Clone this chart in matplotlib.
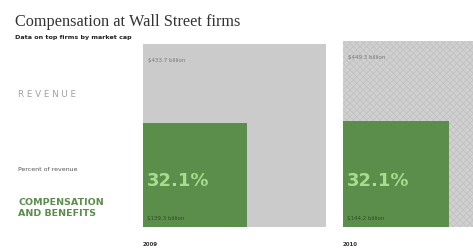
import matplotlib
matplotlib.use('Agg')
from matplotlib import pyplot as plt
from matplotlib.patches import Rectangle

years = ['2009', '2010']
revenue = [433.7, 449.3]
compensation = [139.3, 144.2]
revenue_labels = ['$433.7 billion', '$449.3 billion']
comp_labels = ['$139.3 billion', '$144.2 billion']
pct_labels = ['32.1%', '32.1%']

gray = '#cbcbcb'
green = '#5b8d4b'

fig = plt.figure(figsize=(4.73, 2.51), dpi=100)
ax = fig.add_axes([0, 0, 1, 1])
ax.set_xlim(0, 473)
ax.set_ylim(251, 0)
ax.axis('off')

plt.rcParams['hatch.linewidth'] = 0.6

# side of each square is proportional to sqrt(value) so area matches value
k = 183 / revenue[0] ** 0.5
base = 228
lefts = [143, 343]

for i in range(len(years)):
    x0 = lefts[i]
    s_rev = k * revenue[i] ** 0.5
    s_comp = k * compensation[i] ** 0.5
    if i == 0:
        ax.add_patch(Rectangle((x0, base - s_rev), s_rev, s_rev, facecolor=gray, edgecolor='none'))
    else:
        ax.add_patch(Rectangle((x0, base - s_rev), s_rev, s_rev, facecolor='#d0d0d0', edgecolor='#c2c2c2',
                               hatch='xxxxx', linewidth=0))
    ax.add_patch(Rectangle((x0, base - s_comp), s_comp, s_comp, facecolor=green, edgecolor='none'))
    ax.text(x0 + 5, base - s_rev + 16, revenue_labels[i], fontsize=4, color='#777777', va='center')
    ax.text(x0 + 4, 181, pct_labels[i], fontsize=13, color='#a6dc8e', va='center', fontweight='bold')
    ax.text(x0 + 4, base - 9, comp_labels[i], fontsize=4, color='#2f4d25', va='center')
    ax.text(x0, 245, years[i], fontsize=4, color='#333333', va='center', fontweight='bold')

ax.text(15, 22, 'Compensation at Wall Street firms', fontsize=11.7, family='Liberation Serif',
        color='#333333', va='center')
ax.text(15, 38, 'Data on top firms by market cap', fontsize=4.6, color='#222222', va='center',
        fontweight='bold')
ax.text(18, 95, 'R E V E N U E', fontsize=6.3, color='#a0a0a0', va='center')
ax.text(18, 170, 'Percent of revenue', fontsize=4.5, color='#555555', va='center')
ax.text(18, 208, 'COMPENSATION\nAND BENEFITS', fontsize=6.8, color=green, va='center',
        fontweight='bold', linespacing=1.2)

fig.savefig('out.png', dpi=100)
